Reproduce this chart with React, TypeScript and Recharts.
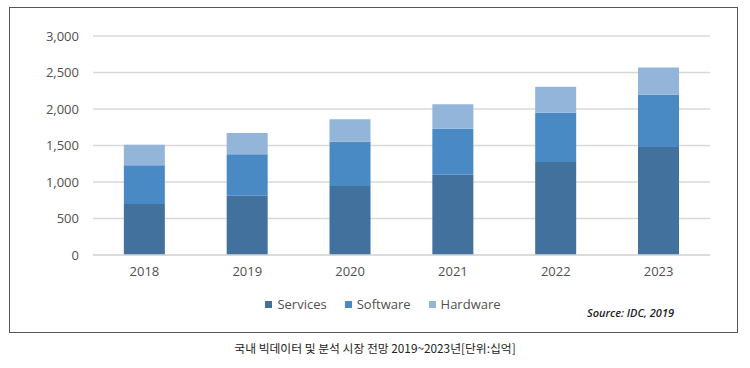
import React from "react";
import { BarChart, Bar, XAxis, YAxis, CartesianGrid, Legend } from "recharts";

const years = ["2018", "2019", "2020", "2021", "2022", "2023"];
const services = [700, 810, 945, 1100, 1275, 1480];
const software = [530, 570, 605, 630, 675, 715];
const hardware = [280, 290, 310, 335, 355, 375];
const yTicks = [0, 500, 1000, 1500, 2000, 2500, 3000];
const seriesOrder = ["Services", "Software", "Hardware"];

const data = years.map((y, i) => ({
  year: y,
  Services: services[i],
  Software: software[i],
  Hardware: hardware[i],
}));

const COLORS: Record<string, string> = { Services: "#41719C", Software: "#4A8AC4", Hardware: "#94B5DA" };
const FONT = "'Open Sans', 'Noto Sans', sans-serif";
const TEXT = "#505050";

const renderLegend = (props: any) => {
  const payload = [...(props.payload || [])].sort(
    (a: any, b: any) => seriesOrder.indexOf(a.value) - seriesOrder.indexOf(b.value)
  );
  return (
    <div style={{ display: "flex", justifyContent: "center", fontFamily: FONT, fontSize: 13, color: TEXT }}>
      {payload.map((p: any, i: number) => (
        <div key={i} style={{ display: "flex", alignItems: "center", marginRight: i < payload.length - 1 ? 18 : 0 }}>
          <span style={{ display: "inline-block", width: 7, height: 7, background: p.color, marginRight: 5 }} />
          <span>{p.value}</span>
        </div>
      ))}
    </div>
  );
};

export default function App() {
  return (
    <div style={{ position: "absolute", left: 0, top: 0, width: 750, height: 368, background: "#fff" }}>
      <div
        style={{
          position: "absolute",
          left: 9,
          top: 7,
          width: 727,
          height: 324,
          border: "1.5px solid #555",
        }}
      />
      <div style={{ position: "absolute", left: 0, top: 0 }}>
        <BarChart
          width={750}
          height={340}
          data={data}
          margin={{ top: 36, right: 40, left: 0, bottom: 55 }}
          barCategoryGap="30%"
        >
          <CartesianGrid vertical={false} stroke="#d9d9d9" strokeWidth={1.5} />
          <XAxis
            dataKey="year"
            axisLine={{ stroke: "#d9d9d9", strokeWidth: 1.5 }}
            tickLine={false}
            tickSize={0}
            tickMargin={12}
            height={30}
            tick={{ fill: TEXT, fontSize: 13, fontFamily: FONT }}
          />
          <YAxis
            width={93}
            domain={[0, 3000]}
            ticks={yTicks}
            axisLine={false}
            tickLine={false}
            tickSize={0}
            tickMargin={14}
            tickFormatter={(v: number) => v.toLocaleString("en-US")}
            tick={{ fill: TEXT, fontSize: 13, fontFamily: FONT }}
          />
          <Legend
            verticalAlign="middle"
            layout="horizontal"
            content={renderLegend}
            wrapperStyle={{ position: "absolute", top: 295, left: 190, width: 386 }}
          />
          <Bar dataKey="Services" stackId="a" fill={COLORS.Services} isAnimationActive={false} />
          <Bar dataKey="Software" stackId="a" fill={COLORS.Software} isAnimationActive={false} />
          <Bar dataKey="Hardware" stackId="a" fill={COLORS.Hardware} isAnimationActive={false} />
        </BarChart>
      </div>
      <div
        style={{
          position: "absolute",
          left: 587,
          top: 305,
          fontFamily: FONT,
          fontStyle: "italic",
          fontWeight: 600,
          fontSize: 11,
          color: "#222",
          whiteSpace: "nowrap",
        }}
      >
        Source: IDC, 2019
      </div>
      <div
        style={{
          position: "absolute",
          left: 0,
          width: 750,
          top: 339,
          textAlign: "center",
          fontFamily: "'Noto Sans CJK KR', sans-serif",
          fontSize: 11.8,
          color: "#222",
          whiteSpace: "nowrap",
        }}
      >
        국내 빅데이터 및 분석 시장 전망 2019~2023년[단위:십억]
      </div>
    </div>
  );
}
